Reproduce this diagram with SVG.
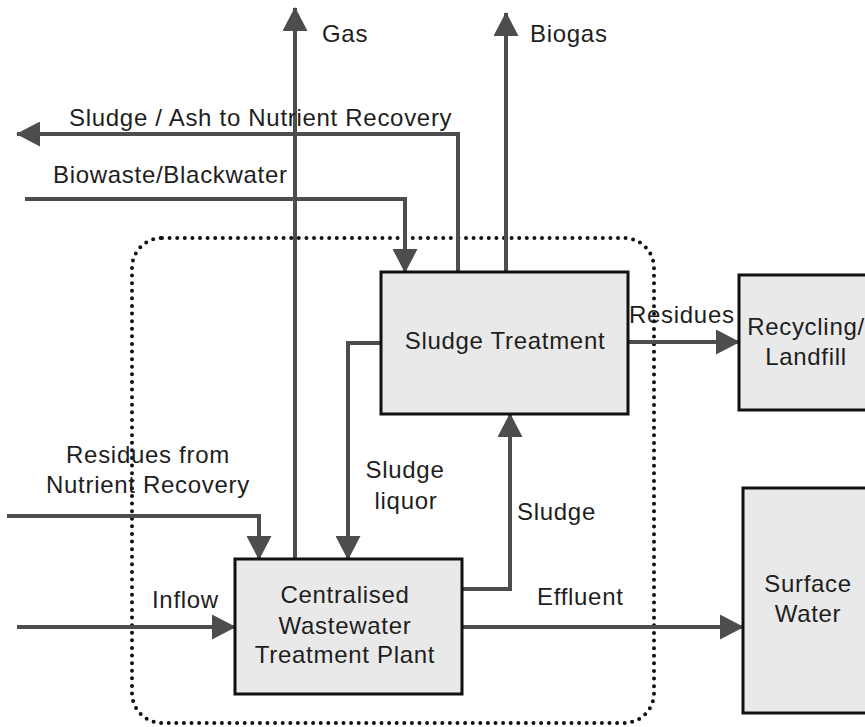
<svg xmlns="http://www.w3.org/2000/svg" width="865" height="727" viewBox="0 0 865 727">
  <style>
    .bg { fill: #ffffff; }
    .box { fill: #e9e9e9; stroke: #111111; stroke-width: 3; }
    .flow { fill: none; stroke: #4d4d4d; stroke-width: 4; }
    .arrow { marker-end: url(#head); }
    .boundary { fill: none; stroke: #111111; stroke-width: 4; stroke-linecap: round; stroke-dasharray: 0 7.6; }
    text { font-family: "Liberation Sans", Arial, sans-serif; font-size: 24px; fill: #1e1e1e; letter-spacing: 0.7px; }
    .mid { text-anchor: middle; }
  </style>
  <defs>
    <marker id="head" markerUnits="userSpaceOnUse" markerWidth="24" markerHeight="25" viewBox="0 0 24 25" refX="23" refY="12.5" orient="auto">
      <path d="M0,0 L24,12.5 L0,25 Z" fill="#4d4d4d"/>
    </marker>
  </defs>

  <rect class="bg" x="0" y="0" width="865" height="727"/>

  <!-- system boundary of the treatment plant -->
  <rect id="boundary" class="boundary" x="132" y="238" width="522" height="485" rx="30" ry="30"/>

  <!-- flows between processes -->
  <g id="connectors">
    <path class="flow arrow" d="M295,559 V8"/>
    <path class="flow arrow" d="M506,272 V13"/>
    <path class="flow arrow" d="M458,272 V134 H17"/>
    <path class="flow arrow" d="M25,199 H405 V272"/>
    <path class="flow arrow" d="M628,342 H739"/>
    <path class="flow arrow" d="M382,343 H348 V559"/>
    <path class="flow arrow" d="M462,589 H510 V414"/>
    <path class="flow arrow" d="M462,627 H743"/>
    <path class="flow arrow" d="M17,627 H235"/>
    <path class="flow arrow" d="M7,516 H259 V559"/>
  </g>

  <!-- flow labels -->
  <g id="labels">
    <text x="322" y="42">Gas</text>
    <text x="530" y="42">Biogas</text>
    <text x="69" y="126">Sludge / Ash to Nutrient Recovery</text>
    <text x="53" y="183">Biowaste/Blackwater</text>
    <text x="629" y="323">Residues</text>
    <text class="mid" x="148" y="463">Residues from</text>
    <text class="mid" x="148" y="493">Nutrient Recovery</text>
    <text class="mid" x="405" y="478">Sludge</text>
    <text class="mid" x="406" y="509">liquor</text>
    <text x="517" y="520">Sludge</text>
    <text x="152" y="608">Inflow</text>
    <text x="537" y="605">Effluent</text>
  </g>

  <g id="sludge-treatment">
    <rect class="box" x="381" y="272" width="247" height="142"/>
    <text class="mid" x="505" y="349">Sludge Treatment</text>
  </g>

  <g id="wwtp">
    <rect class="box" x="235" y="559" width="227" height="135"/>
    <text class="mid" x="345" y="603">Centralised</text>
    <text class="mid" x="345" y="634">Wastewater</text>
    <text class="mid" x="345" y="663">Treatment Plant</text>
  </g>

  <g id="recycling-landfill">
    <rect class="box" x="739" y="275" width="140" height="135"/>
    <text class="mid" x="806" y="335">Recycling/</text>
    <text class="mid" x="806" y="365">Landfill</text>
  </g>

  <g id="surface-water">
    <rect class="box" x="743" y="488" width="140" height="225"/>
    <text class="mid" x="808" y="592">Surface</text>
    <text class="mid" x="808" y="622">Water</text>
  </g>
</svg>
